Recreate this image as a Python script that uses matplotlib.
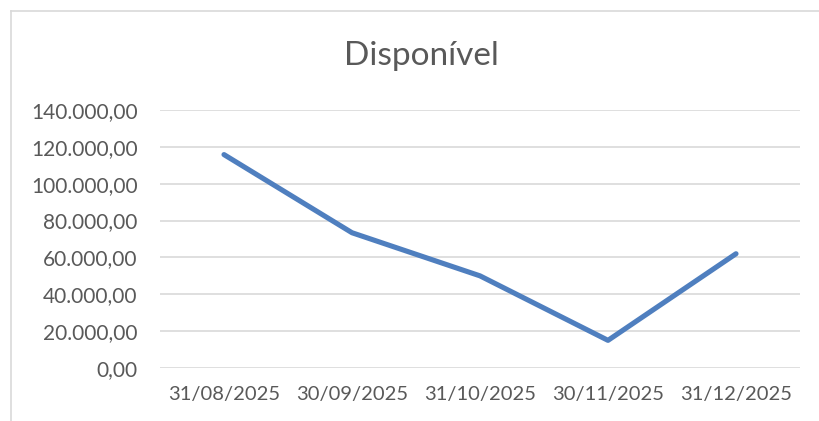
import matplotlib
matplotlib.use("Agg")
import matplotlib.pyplot as plt
from matplotlib.ticker import FuncFormatter, MultipleLocator
from matplotlib.lines import Line2D

# data
datas = ["31/08/2025", "30/09/2025", "31/10/2025", "30/11/2025", "31/12/2025"]
disponivel = [115800, 73400, 50000, 15000, 62000]
titulo = "Disponível"

cinza_txt = "#595959"
cinza_grade = "#d9d9d9"
azul = "#4f7fbf"

plt.rcParams["font.family"] = ["Lato", "DejaVu Sans"]


def fmt_br(v, pos):
	s = f"{v:,.2f}"
	return s.replace(",", "X").replace(".", ",").replace("X", ".")


fig = plt.figure(figsize=(8.19, 4.21), dpi=100)
ax = fig.add_axes([160 / 819, 53 / 421, 640 / 819, 258 / 421])

x = list(range(len(datas)))
ax.plot(x, disponivel, color=azul, linewidth=3.7, solid_capstyle="round",
	solid_joinstyle="round", zorder=3)

ax.set_xlim(-0.5, len(datas) - 0.5)
ax.set_ylim(0, 140000)
ax.yaxis.set_major_locator(MultipleLocator(20000))
ax.yaxis.set_major_formatter(FuncFormatter(fmt_br))
ax.set_xticks(x)
ax.set_xticklabels(datas)

ax.grid(axis="y", color=cinza_grade, linewidth=1.2)
ax.set_axisbelow(True)
for s in ax.spines.values():
	s.set_visible(False)
ax.tick_params(axis="both", length=0, labelsize=14.5, colors=cinza_txt)
ax.tick_params(axis="y", labelsize=15, pad=16)
ax.tick_params(axis="x", pad=13)

fig.text(421 / 819, 1 - 56 / 421, titulo, ha="center", va="center",
	fontsize=24, color=cinza_txt)

# moldura do grafico (canto superior esquerdo visivel)
fig.add_artist(Line2D([11 / 819, 1], [1 - 11 / 421, 1 - 11 / 421],
	transform=fig.transFigure, color=cinza_grade, linewidth=1.2))
fig.add_artist(Line2D([11 / 819, 11 / 819], [0, 1 - 11 / 421],
	transform=fig.transFigure, color=cinza_grade, linewidth=1.2))

fig.savefig("out.png", dpi=100)
